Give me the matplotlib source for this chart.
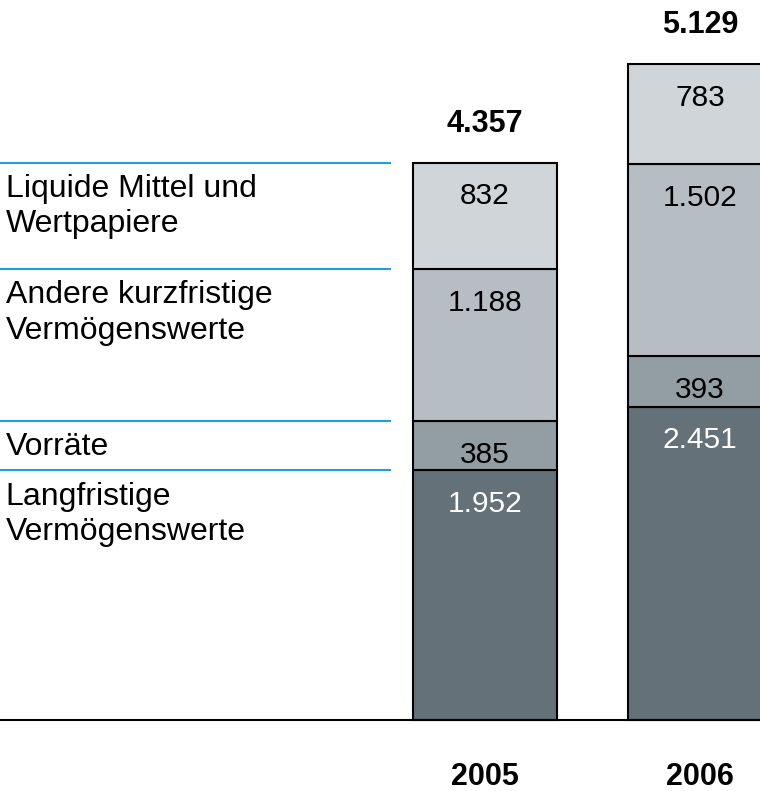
import matplotlib.pyplot as plt
import numpy as np

plt.rcParams['font.family'] = ['Liberation Sans', 'DejaVu Sans']

years = ['2005', '2006']
categories = ['Langfristige\nVermögenswerte', 'Vorräte',
              'Andere kurzfristige\nVermögenswerte', 'Liquide Mittel und\nWertpapiere']
values = {
    'Langfristige': [1952, 2451],
    'Vorraete': [385, 393],
    'Andere': [1188, 1502],
    'Liquide': [832, 783],
}
value_labels = {
    'Langfristige': ['1.952', '2.451'],
    'Vorraete': ['385', '393'],
    'Andere': ['1.188', '1.502'],
    'Liquide': ['832', '783'],
}
totals = [4357, 5129]
total_labels = ['4.357', '5.129']

colors = ['#647178', '#939ea4', '#b7bec3', '#d0d5d9']
text_colors = ['white', 'black', 'black', 'black']

fig = plt.figure(figsize=(7.6, 7.91), dpi=100)
ax = fig.add_axes([0, 0, 1, 1])
ax.set_xlim(-2.256, 1.279)
ax.set_ylim(-555, 5632)
ax.axis('off')

x = np.arange(len(years))
width = 0.67
bottom = np.zeros(len(years))
keys = list(values.keys())
for i, k in enumerate(keys):
    v = np.array(values[k])
    ax.bar(x, v, width, bottom=bottom, color=colors[i], edgecolor='black', linewidth=1.5, zorder=2)
    for j in range(len(years)):
        ax.annotate(value_labels[k][j], (x[j], bottom[j] + v[j]), xytext=(0, -24),
                    textcoords='offset points', ha='center', va='center',
                    fontsize=21.5, color=text_colors[i], zorder=3)
    bottom += v

for j in range(len(years)):
    ax.annotate(total_labels[j], (x[j], totals[j]), xytext=(0, 28), textcoords='offset points',
                ha='center', va='center', fontsize=22, fontweight='bold')
    ax.annotate(years[j], (x[j], 0), xytext=(0, -41), textcoords='offset points',
                ha='center', va='center', fontsize=22, fontweight='bold')

# baseline
ax.plot([-2.256, 1.279], [0, 0], color='black', linewidth=1.5, zorder=4)

# blue separators and labels on the left, aligned to 2005 segment tops
line_x0, line_x1 = -2.256, -0.44
tops = np.cumsum([values[k][0] for k in keys])
for i, k in enumerate(keys):
    y = tops[i]
    ax.plot([line_x0, line_x1], [y, y], color='#1aa0dc', linewidth=1.5)
    ax.annotate(categories[i], (line_x0, y), xytext=(4, -8), textcoords='offset points',
                ha='left', va='top', fontsize=23, linespacing=1.22)

fig.savefig('out.png', dpi=100)
